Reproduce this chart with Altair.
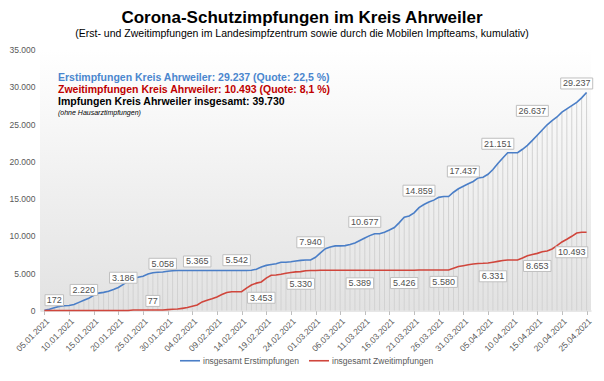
import altair as alt
import pandas as pd

# ---- categories (daily, 05.01.2021 - 25.04.2021) ----
dates = pd.date_range("2021-01-05", "2021-04-25", freq="D").strftime("%d.%m.%Y").tolist()

# ---- cumulative first vaccinations ----
erst = [45, 172, 360, 550, 645, 680, 800, 1090, 1370, 1640,
        2030, 2330, 2435, 2590, 2820, 3080, 3510, 3930, 4250, 4470,
        4600, 4890, 5058, 5120, 5170, 5260, 5340, 5365, 5365, 5365,
        5365, 5365, 5365, 5365, 5365, 5365, 5365, 5365, 5365, 5365,
        5365, 5365, 5390, 5542, 5820, 6050, 6160, 6280, 6470, 6470,
        6540, 6630, 6720, 6780, 6780, 7130, 7720, 8280, 8510, 8660,
        8660, 8700, 8850, 9050, 9380, 9720, 10040, 10300, 10300, 10500,
        10800, 11130, 11790, 12510, 12680, 13100, 13800, 14210, 14540, 14800,
        15170, 15280, 15280, 15860, 16330, 16670, 16990, 17300, 17780, 17880,
        18270, 18900, 19700, 20450, 21151, 21151, 21151, 21620, 22150, 22810,
        23500, 24200, 24900, 25460, 25950, 26600, 27040, 27480, 27920, 28510,
        29237]

# ---- cumulative second vaccinations ----
zweit = [0, 0, 0, 0, 0, 0, 0, 0, 0, 0,
         0, 0, 0, 0, 0, 0, 0, 0, 77, 77,
         77, 77, 77, 77, 77, 120, 170, 195, 290, 400,
         565, 740, 1150, 1380, 1570, 1820, 2140, 2410, 2510, 2520,
         2520, 2990, 3420, 3670, 3830, 4350, 4730, 4760, 4860, 4990,
         5100, 5180, 5210, 5330, 5360, 5370, 5389, 5389, 5389, 5389,
         5389, 5389, 5389, 5389, 5389, 5389, 5389, 5389, 5389, 5389,
         5389, 5389, 5389, 5389, 5389, 5389, 5426, 5426, 5426, 5426,
         5426, 5426, 5426, 5650, 5890, 6010, 6130, 6230, 6310, 6331,
         6370, 6480, 6590, 6700, 6780, 6780, 6780, 7040, 7330, 7500,
         7660, 7880, 7990, 8250, 8700, 9190, 9560, 9950, 10390, 10493,
         10493]

# ---- data labels ----
erst_label_dates = ["07.01.2021", "13.01.2021", "21.01.2021", "29.01.2021", "05.02.2021",
                    "13.02.2021", "28.02.2021", "11.03.2021", "22.03.2021", "31.03.2021",
                    "07.04.2021", "14.04.2021", "23.04.2021"]
erst_label_values = [172, 2220, 3186, 5058, 5365, 5542, 7940, 10677, 14859, 17437, 21151, 26637, 29237]
erst_label_place = ["above", "near", "above", "above", "above", "above", "above", "above",
                    "above", "above", "above", "on", "above"]

zweit_label_dates = ["27.01.2021", "18.02.2021", "26.02.2021", "10.03.2021", "19.03.2021",
                     "27.03.2021", "06.04.2021", "15.04.2021", "22.04.2021"]
zweit_label_values = [77, 3453, 5330, 5389, 5426, 5580, 6331, 8653, 10493]
zweit_label_place = ["above", "below", "below", "below", "below", "below", "below",
                     "far below", "far below"]

y_ticks = [0, 5000, 10000, 15000, 20000, 25000, 30000, 35000]

series_names = ["insgesamt Erstimpfungen", "insgesamt Zweitimpfungen"]
series_colors = ["#4A7EC7", "#D0463C"]

title_text = "Corona-Schutzimpfungen im Kreis Ahrweiler"
subtitle_text = "(Erst- und Zweitimpfungen im Landesimpfzentrum sowie durch die Mobilen Impfteams, kumulativ)"
info_lines = ["Erstimpfungen Kreis Ahrweiler: 29.237 (Quote: 22,5 %)",
              "Zweitimpfungen Kreis Ahrweiler: 10.493 (Quote: 8,1 %)",
              "Impfungen Kreis Ahrweiler insgesamt: 39.730",
              "(ohne Hausarztimpfungen)"]

tick_dates = dates[::5]

W, H = 551, 261
FONT = "Liberation Sans"
PLACE_OFFSET = {"above": -9, "near": -4, "on": -1, "below": 13, "far below": 20}


def de_num(v):
    return f"{v:,}".replace(",", ".")


def box_path(txt):
    a = (len(txt) * 4.5 + 5) / 20.0
    return f"M{-a:.3f},-0.55H{a:.3f}V0.55H{-a:.3f}Z"


df = pd.DataFrame({"Datum": dates, "Erst": erst, "Zweit": zweit})
long = pd.concat([
    pd.DataFrame({"Datum": dates, "Wert": erst, "Reihe": series_names[0]}),
    pd.DataFrame({"Datum": dates, "Wert": zweit, "Reihe": series_names[1]}),
])

xscale = alt.Scale(domain=dates, type="point", padding=0.9)
yscale = alt.Scale(domain=[0, 35000], nice=False, zero=True)

xaxis = alt.Axis(values=tick_dates, labelAngle=-45, labelFont=FONT, labelFontSize=8.5,
                 labelColor="#595959", tickColor="#BFBFBF", tickSize=4, domainColor="#D0D0D0",
                 labelPadding=2, title=None, grid=False, labelOverlap=False)
yaxis = alt.Axis(values=y_ticks, tickCount=8, labelFont=FONT, labelFontSize=8.5,
                 labelColor="#595959", labelExpr="replace(format(datum.value, ',d'), ',', '.')",
                 ticks=False, domain=False, grid=False, title=None, labelPadding=5,
                 labelOverlap=False, labelBound=False)


def X(field):
    return alt.X(field, scale=xscale, axis=xaxis)


def Y(field):
    return alt.Y(field, scale=yscale, axis=yaxis)


# background gradient of the plot area
bg = alt.Chart(pd.DataFrame({"a": [0]})).mark_rect(
    fill=alt.LinearGradient(gradient="linear", x1=0, y1=0, x2=0, y2=1,
                            stops=[alt.GradientStop(color="#FFFFFF", offset=0),
                                   alt.GradientStop(color="#E2E2E2", offset=1)])
).encode(x=alt.value(0), x2=alt.value(W), y=alt.value(0), y2=alt.value(H))

# vertical drop lines
drops = alt.Chart(df).mark_rule(color="#D2D2D2", strokeWidth=1).encode(
    x=X("Datum:O"), y=Y("Erst:Q"), y2=alt.datum(0),
)

lines = alt.Chart(long).mark_line(strokeWidth=1.6).encode(
    x=X("Datum:O"), y=Y("Wert:Q"),
    color=alt.Color("Reihe:N", scale=alt.Scale(domain=series_names, range=series_colors),
                    legend=alt.Legend(orient="none", legendX=139, legendY=300, direction="horizontal",
                                      title=None, symbolType="stroke", symbolSize=400,
                                      symbolStrokeWidth=1.6, labelFont=FONT, labelFontSize=8.5,
                                      labelColor="#595959", columnPadding=6, labelOffset=2)),
    detail="Reihe:N",
)

labels = pd.concat([
    pd.DataFrame({"Datum": erst_label_dates, "Wert": erst_label_values, "place": erst_label_place}),
    pd.DataFrame({"Datum": zweit_label_dates, "Wert": zweit_label_values, "place": zweit_label_place}),
])
labels["txt"] = labels["Wert"].map(de_num)
labels["shape"] = labels["txt"].map(box_path)


def label_layers(d, off):
    boxes = alt.Chart(d).mark_point(filled=True, fill="white", stroke="#BFBFBF", strokeWidth=1,
                                    opacity=1, size=400, yOffset=off).encode(
        x=X("Datum:O"), y=Y("Wert:Q"),
        shape=alt.Shape("shape:N", scale=None))
    texts = alt.Chart(d).mark_text(font=FONT, fontSize=9, color="#505050", yOffset=off,
                                   baseline="middle", align="center").encode(
        x=X("Datum:O"), y=Y("Wert:Q"), text="txt:N")
    return [boxes, texts]


label_marks = []
for place, off in PLACE_OFFSET.items():
    sub = labels[labels["place"] == place]
    if len(sub):
        label_marks += label_layers(sub, off)


def txt(s, x, y, size, color, weight="normal", style="normal", align="left"):
    return alt.Chart(pd.DataFrame({"t": [s]})).mark_text(
        font=FONT, fontSize=size, color=color, fontWeight=weight, fontStyle=style,
        align=align, baseline="middle").encode(text="t:N", x=alt.value(x), y=alt.value(y))


texts = [
    txt(title_text, 262, -31.5, 17, "#000000", weight="bold", align="center"),
    txt(subtitle_text, 262, -15.5, 10.5, "#000000", align="center"),
    txt(info_lines[0], 18, 28.5, 10.5, "#4A86CE", weight="bold"),
    txt(info_lines[1], 18, 40.5, 10.5, "#C00000", weight="bold"),
    txt(info_lines[2], 18, 52.5, 10.5, "#000000", weight="bold"),
    txt(info_lines[3], 18, 63.5, 7, "#000000", style="italic"),
]

chart = alt.layer(
    bg, drops, lines, *label_marks, *texts,
).properties(
    width=W, height=H,
    autosize=alt.AutoSizeParams(type="none"),
    padding={"left": 32, "top": 41.5, "right": 4, "bottom": 60},
).configure_view(stroke=None)

chart.save("out.html", embed_options={"renderer": "svg", "actions": False})
